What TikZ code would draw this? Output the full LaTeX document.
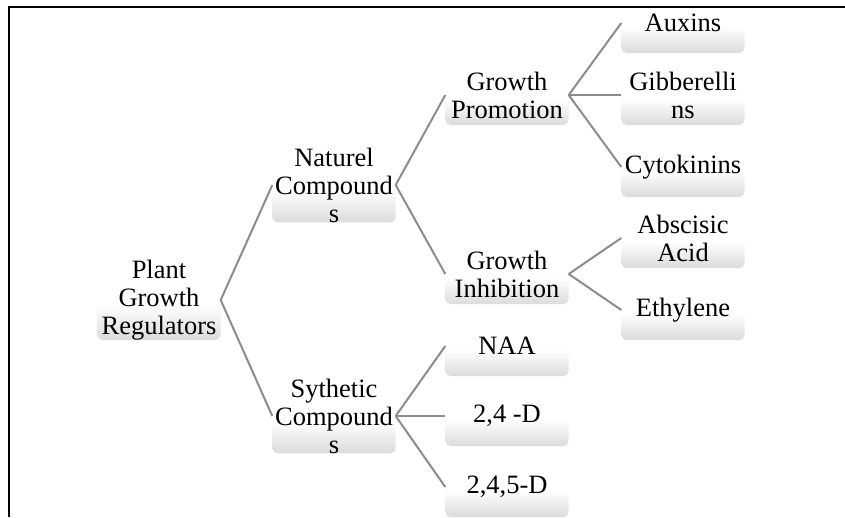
\documentclass[tikz,border=0pt]{standalone}
\usepackage{fontspec}
\setmainfont{Liberation Serif}
\pgfdeclareverticalshading{boxshade}{100bp}{color(0bp)=(black!14); color(25bp)=(black!14); color(36bp)=(black!7); color(47bp)=(white); color(100bp)=(white)}
\tikzset{
  leaf/.style={rectangle, rounded corners=5pt, minimum width=123pt, minimum height=60pt,
    shading=boxshade, align=center, inner sep=0pt,
    font=\fontsize{26.5}{28}\selectfont},
  conn/.style={draw=black!45, line width=2pt},
  frame/.style={draw=black, line width=1.5pt}
}
\begin{document}
\begin{tikzpicture}[x=1pt,y=-1pt]
\useasboundingbox (0,0) rectangle (845,517);
% column 1
\node[leaf] (pgr) at (159,300) {Plant\\Growth\\Regulators};
% column 2
\node[leaf] (nc) at (334,185) {Naturel\\Compound\\s};
\node[leaf] (sc) at (334,416) {Sythetic\\Compound\\s};
% column 3
\node[leaf] (gp) at (507,95) {Growth\\Promotion};
\node[leaf] (gi) at (507,274) {Growth\\Inhibition};
\node[leaf] (naa) at (507,346) {NAA};
\node[leaf] (d24) at (507,416) {2,4 -D};
\node[leaf] (d245) at (507,487) {2,4,5-D};
% column 4
\node[leaf] (aux) at (683,23) {Auxins};
\node[leaf] (gib) at (683,95) {Gibberelli\\ns};
\node[leaf] (cyt) at (683,167) {Cytokinins};
\node[leaf] (aba) at (683,238) {Abscisic\\Acid};
\node[leaf] (eth) at (683,310) {Ethylene};
% connectors
\draw[conn] (pgr.east) -- (nc.west);
\draw[conn] (pgr.east) -- (sc.west);
\draw[conn] (nc.east) -- (gp.west);
\draw[conn] (nc.east) -- (gi.west);
\draw[conn] (sc.east) -- (naa.west);
\draw[conn] (sc.east) -- (d24.west);
\draw[conn] (sc.east) -- (d245.west);
\draw[conn] (gp.east) -- (aux.west);
\draw[conn] (gp.east) -- (gib.west);
\draw[conn] (gp.east) -- (cyt.west);
\draw[conn] (gi.east) -- (aba.west);
\draw[conn] (gi.east) -- (eth.west);
% frame
\coordinate (fbl) at (9,517);
\coordinate (ftl) at (9,7);
\coordinate (ftr) at (845,7);
\draw[frame] (fbl) -- (ftl) -- (ftr);
\end{tikzpicture}
\end{document}
